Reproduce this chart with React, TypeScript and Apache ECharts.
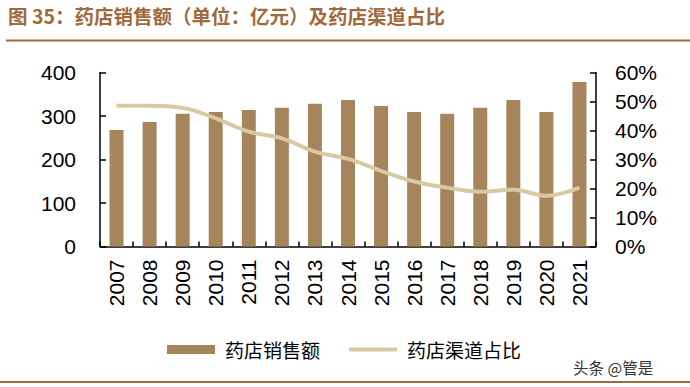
import React, { useEffect, useRef } from "react";
import * as echarts from "echarts";

const years = ["2007","2008","2009","2010","2011","2012","2013","2014","2015","2016","2017","2018","2019","2020","2021"];
const sales = [268, 286, 305, 309, 314, 319, 328, 337, 323, 309, 305, 319, 337, 309, 378];
const share = [48.5, 48.5, 47.8, 44.2, 39.6, 37.3, 32.7, 30.2, 26.1, 22.4, 20.3, 18.9, 19.6, 17.5, 20.3];
const leftTicks = [0, 100, 200, 300, 400];
const rightTicks = [0, 10, 20, 30, 40, 50, 60];

const BAR = "#a6845c";
const LINE = "#d8c9a2";
const BROWN = "#a06a3c";

export default function App() {
  const ref = useRef<HTMLDivElement>(null);
  useEffect(() => {
    const chart = echarts.init(ref.current!, null, { renderer: "svg" });
    const axisFont = { fontFamily: "Liberation Sans, Arial, sans-serif", fontSize: 21, color: "#000" };
    chart.setOption({
      animation: false,
      backgroundColor: "#fff",
      grid: { left: 100, right: 94, top: 72.5, bottom: 140.5, containLabel: false },
      xAxis: {
        type: "category",
        data: years,
        boundaryGap: true,
        axisLine: { lineStyle: { color: "#000", width: 1.5 } },
        axisTick: { show: true, inside: true, length: 5, lineStyle: { color: "#000", width: 1.5 } },
        axisLabel: { ...axisFont, rotate: 90, margin: 13, interval: 0 },
      },
      yAxis: [
        {
          type: "value",
          min: leftTicks[0],
          max: leftTicks[leftTicks.length - 1],
          interval: 100,
          splitLine: { show: false },
          axisLine: { show: true, lineStyle: { color: "#000", width: 1.5 } },
          axisTick: { show: true, inside: true, length: 6, lineStyle: { color: "#000", width: 1.5 } },
          axisLabel: { ...axisFont, margin: 24 },
        },
        {
          type: "value",
          min: rightTicks[0],
          max: rightTicks[rightTicks.length - 1],
          interval: 10,
          position: "right",
          splitLine: { show: false },
          axisLine: { show: true, lineStyle: { color: "#000", width: 1.5 } },
          axisTick: { show: true, inside: true, length: 6, lineStyle: { color: "#000", width: 1.5 } },
          axisLabel: { ...axisFont, margin: 19, formatter: "{value}%" },
        },
      ],
      legend: {
        left: 162,
        top: 335,
        itemWidth: 48,
        itemHeight: 9,
        itemGap: 29,
        textStyle: { fontFamily: "Noto Sans CJK SC", fontSize: 19, color: "#000", padding: [0, 0, 0, 5] },
        data: [
          { name: "药店销售额", icon: "rect" },
          { name: "药店渠道占比", icon: "path://M0,0H48V4H0Z" },
        ],
      },
      series: [
        {
          name: "药店销售额",
          type: "bar",
          data: sales,
          barWidth: 14,
          itemStyle: { color: BAR },
        },
        {
          name: "药店渠道占比",
          type: "line",
          yAxisIndex: 1,
          data: share,
          smooth: 0.4,
          symbol: "none",
          showSymbol: false,
          lineStyle: { color: LINE, width: 4 },
          itemStyle: { color: LINE },
        },
      ],
      graphic: [
        {
          type: "text",
          left: 8,
          top: 6,
          style: {
            text: "图 35：药店销售额（单位：亿元）及药店渠道占比",
            fill: BROWN,
            font: "bold 19.5px 'Noto Sans CJK SC', sans-serif",
          },
        },
        { type: "rect", shape: { x: 6, y: 39.5, width: 684, height: 2 }, style: { fill: BROWN } },
        { type: "rect", shape: { x: 0, y: 381, width: 690, height: 2 }, style: { fill: BROWN } },
        {
          type: "text",
          left: 573,
          top: 359,
          style: { text: "头条 @管是", fill: "#333", font: "15.5px 'Noto Sans CJK SC', sans-serif" },
        },
      ],
    });
    return () => chart.dispose();
  }, []);
  return <div ref={ref} style={{ width: 690, height: 387, position: "absolute", left: 0, top: 0 }} />;
}
